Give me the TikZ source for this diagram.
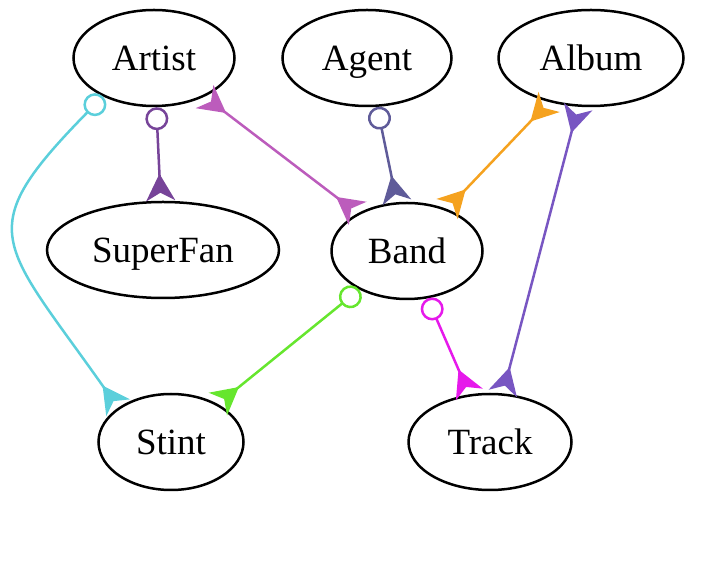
\documentclass[tikz,border=0pt]{standalone}
\usepackage{fontspec}
\setmainfont{Liberation Serif}
\usetikzlibrary{arrows.meta,shapes.geometric}
\definecolor{stintcol}{HTML}{5BCFDB}
\definecolor{fancol}{HTML}{774499}
\definecolor{bandcol}{HTML}{BC5CBC}
\definecolor{agentcol}{HTML}{5F5B99}
\definecolor{albumcol}{HTML}{F5A21F}
\definecolor{trackcol}{HTML}{7856C2}
\definecolor{membercol}{HTML}{66E62E}
\definecolor{songcol}{HTML}{E619EB}
\begin{document}
\begin{tikzpicture}
        [x=1pt,y=1pt,
         entity/.style={ellipse,draw,line width=2.5pt,minimum height=96pt,
           inner sep=0pt,text height=25pt,text depth=0pt,
           font=\fontsize{37}{44}\selectfont},
         edge/.style={line width=2.5pt},
         one/.tip={Circle[open,length=23pt,width=23pt]},
         many/.tip={Stealth[reversed,length=27pt,width=29pt,inset=8pt]}]
        \useasboundingbox (0,0) rectangle (720,562);

        \node[entity,minimum width=161pt] (Artist) at (154,504) {Artist};
        \node[entity,minimum width=169pt] (Agent) at (367,504) {Agent};
        \node[entity,minimum width=185pt] (Album) at (591,504) {Album};

        \node[entity,minimum width=232pt] (SuperFan) at (163,312) {SuperFan};
        \node[entity,minimum width=151pt] (Band) at (407,311) {Band};

        \node[entity,minimum width=145pt] (Stint) at (171,120) {Stint};
        \node[entity,minimum width=163pt] (Track) at (490,120) {Track};

        \draw[edge,color=stintcol,arrows={one-many}] (Artist.217)
        .. controls (-30,330) and (0,322) .. (Stint.147);
        \draw[edge,color=fancol,arrows={one-many}] (Artist) -- (SuperFan);
        \draw[edge,color=bandcol,arrows={many-many}] (Artist) -- (Band);

        \draw[edge,color=agentcol,arrows={one-many}] (Agent) -- (Band);
        \draw[edge,color=albumcol,arrows={many-many}] (Album) -- (Band);
        \draw[edge,color=trackcol,arrows={many-many}] (Album) -- (Track);

        \draw[edge,color=membercol,arrows={one-many}] (Band) -- (Stint);
        \draw[edge,color=songcol,arrows={one-many}] (Band) -- (Track);
      \end{tikzpicture}
\end{document}
